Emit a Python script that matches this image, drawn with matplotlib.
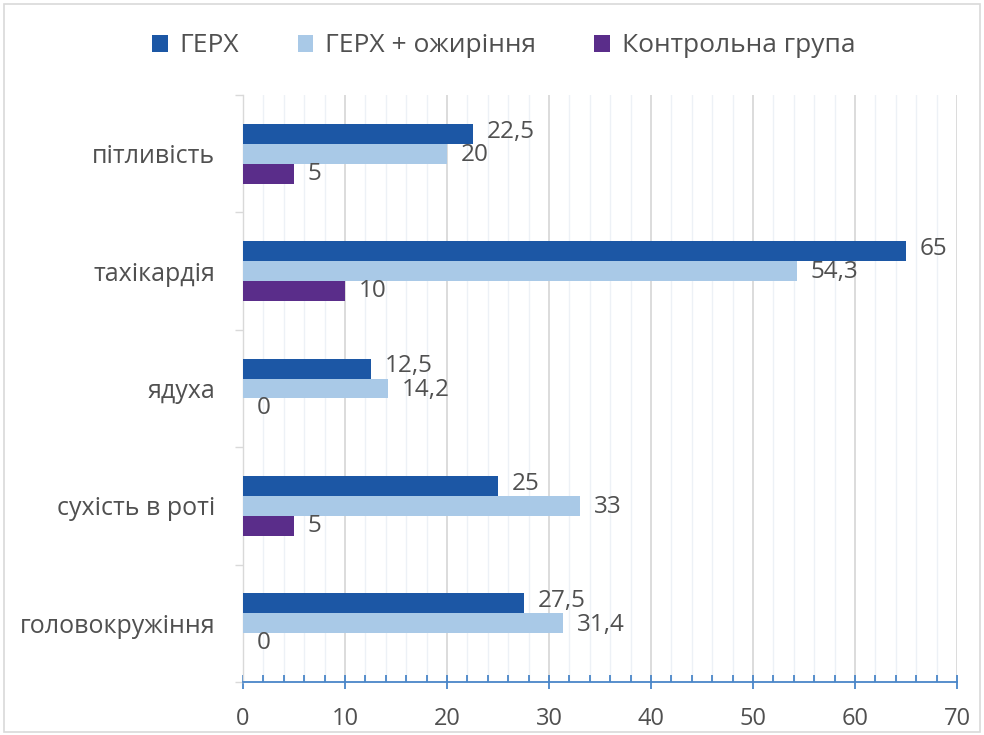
import matplotlib
matplotlib.use("Agg")
import matplotlib.pyplot as plt
import numpy as np
from matplotlib.ticker import MultipleLocator
from matplotlib.patches import Rectangle

categories = ["головокружіння", "сухість в роті", "ядуха", "тахікардія", "пітливість"]
series_names = ["ГЕРХ", "ГЕРХ + ожиріння", "Контрольна група"]
gerd = [27.5, 25, 12.5, 65, 22.5]
gerd_obesity = [31.4, 33, 14.2, 54.3, 20]
control = [0, 5, 0, 10, 5]
colors = ["#1c57a5", "#a9c9e7", "#5a2d8a"]

plt.rcParams['font.family'] = ['Open Sans', 'DejaVu Sans']
text_color = "#505050"

fig = plt.figure(figsize=(9.84, 7.35), dpi=100)
fig.patches.append(Rectangle((0.004, 0.004), 0.992, 0.99, transform=fig.transFigure,
                             fill=False, edgecolor="#d9d9d9", linewidth=1.2))
ax = fig.add_axes([243/984, 1-682/735, (957-243)/984, (682-95)/735])

n = len(categories)
y = np.arange(n)
h = 0.17
all_series = [gerd, gerd_obesity, control]
nudges = [1.5, -1.0, 0]
for i, (vals, c, name) in enumerate(zip(all_series, colors, series_names)):
    pos = y + (1 - i) * h
    ax.barh(pos, vals, height=h, color=c, label=name, zorder=3)
    for p, v in zip(pos, vals):
        lab = f"{v:g}".replace(".", ",")
        ax.annotate(lab, (v, p), xytext=(10, nudges[i]), textcoords="offset points",
                    va="center", ha="left", fontsize=17.5, color=text_color)

ax.set_xlim(0, 70)
ax.set_ylim(-0.5, n - 0.5)
ax.xaxis.set_major_locator(MultipleLocator(10))
ax.xaxis.set_minor_locator(MultipleLocator(2))
ax.grid(axis="x", which="major", color="#d9d9d9", linewidth=1.3, zorder=0)
ax.grid(axis="x", which="minor", color="#edf1f6", linewidth=1.0, zorder=0)
ax.set_axisbelow(True)

for s in ["top", "right"]:
    ax.spines[s].set_visible(False)
ax.spines["bottom"].set_color("#4a86c8")
ax.spines["bottom"].set_linewidth(1.3)
ax.spines["left"].set_color("#d9d9d9")
ax.spines["left"].set_linewidth(1.0)

ax.tick_params(axis="x", which="major", direction="inout", length=10, width=1.3,
               color="#4a86c8", labelsize=17, labelcolor=text_color, pad=13)
ax.tick_params(axis="x", which="minor", direction="in", length=5, width=1.3,
               color="#4a86c8")

ax.set_yticks(y)
ax.set_yticklabels(categories)
ax.set_yticks(np.arange(-0.5, n, 1), minor=True)
ax.tick_params(axis="y", which="major", length=0, labelsize=18,
               labelcolor=text_color, pad=20)
ax.tick_params(axis="y", which="minor", direction="out", length=6,
               color="#d9d9d9", width=1.0)

leg = fig.legend(loc="center", bbox_to_anchor=(0.512, 1 - 46/735), ncol=3,
                 frameon=False, fontsize=19, handlelength=0.6, handleheight=0.6,
                 handletextpad=0.45, columnspacing=2.2)
for t in leg.get_texts():
    t.set_color(text_color)

fig.savefig("out.png", dpi=100)
